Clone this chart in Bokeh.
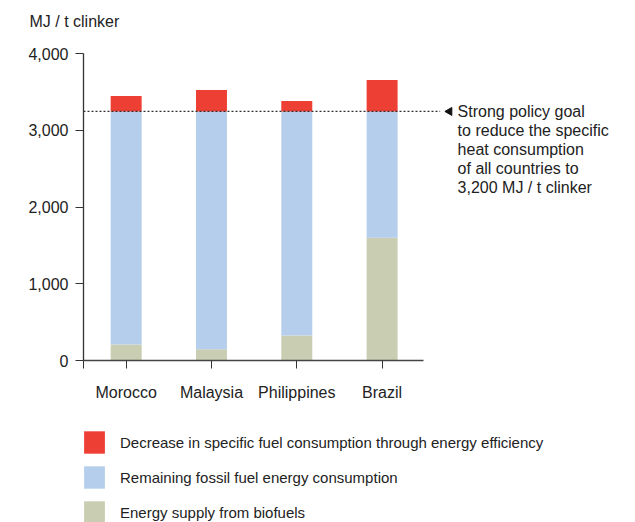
import math
from bokeh.plotting import figure
from bokeh.layouts import column
from bokeh.models import (FixedTicker, NumeralTickFormatter, Label, Legend, LegendItem, Range1d)
from bokeh.embed import file_html
from bokeh.resources import INLINE

# ---- data ----
countries = ["Morocco", "Malaysia", "Philippines", "Brazil"]
biofuels = [210, 145, 325, 1600]          # Energy supply from biofuels
policy_goal = 3245                        # drawn level of the 3,200 MJ / t clinker goal
totals = [3445, 3525, 3380, 3655]         # current specific heat consumption
y_ticks = [0, 1000, 2000, 3000, 4000]
y_title = "MJ / t clinker"
legend_labels = [
    "Decrease in specific fuel consumption through energy efficiency",
    "Remaining fossil fuel energy consumption",
    "Energy supply from biofuels",
]
note_lines = [
    "Strong policy goal",
    "to reduce the specific",
    "heat consumption",
    "of all countries to",
    "3,200 MJ / t clinker",
]

fossil = [policy_goal - b for b in biofuels]
efficiency = [t - policy_goal for t in totals]
pos = [i + 0.5 for i in range(len(countries))]

RED = "#EE3F35"
BLUE = "#B5CEEB"
GREEN = "#C9CDB1"
TXT = "#222222"
FONT = "Liberation Sans"
FS = "16px"
W = 635

# ---- main chart ----
p = figure(width=W, height=415, output_backend="svg", toolbar_location=None,
           x_range=Range1d(0, 6.47), y_range=Range1d(0, 4000),
           min_border_left=83, min_border_right=0, min_border_top=53, min_border_bottom=55)
p.outline_line_color = None
p.grid.visible = False

p.title.text = y_title + "\n "
p.title.align = "left"
p.title.offset = -54
p.title.standoff = 14
p.title.text_font = FONT
p.title.text_font_size = FS
p.title.text_font_style = "normal"
p.title.text_color = TXT

src = dict(x=pos, biofuels=biofuels, fossil=fossil, efficiency=efficiency)
rs = p.vbar_stack(["biofuels", "fossil", "efficiency"], x="x", width=0.363, source=src,
                  color=[GREEN, BLUE, RED], line_color=None)

p.line(x=[0, 4.18], y=[policy_goal, policy_goal], line_color="#333333", line_width=1.2,
       line_dash="2 2")
p.scatter(x=[4.29], y=[policy_goal], marker="triangle", size=8, angle=math.pi / 2,
          color="#111111")
for i, t in enumerate(note_lines):
    p.add_layout(Label(x=4.385, y=policy_goal, y_offset=-19 * i, text=t,
                       text_baseline="middle", text_font=FONT, text_font_size=FS,
                       text_color=TXT))

ya = p.yaxis[0]
ya.ticker = FixedTicker(ticks=y_ticks)
ya.formatter = NumeralTickFormatter(format="0,0")
ya.bounds = (0, 4000)
ya.major_tick_out = 8
ya.major_tick_in = 0
ya.minor_tick_line_color = None
ya.major_label_standoff = 7
ya.axis_line_color = "#333333"
ya.major_tick_line_color = "#333333"
ya.axis_line_width = 1.3
ya.major_label_text_font = FONT
ya.major_label_text_font_size = FS
ya.major_label_text_color = TXT

xa = p.xaxis[0]
xa.ticker = FixedTicker(ticks=[0] + pos)
xa.major_label_overrides = {0: ""} | {x: c for x, c in zip(pos, countries)}
xa.bounds = (0, 3.98)
xa.major_tick_out = 8
xa.major_tick_in = 0
xa.minor_tick_line_color = None
xa.major_label_standoff = 15
xa.axis_line_color = "#444444"
xa.major_tick_line_color = "#333333"
xa.axis_line_width = 1.3
xa.major_label_text_font = FONT
xa.major_label_text_font_size = FS
xa.major_label_text_color = TXT

# ---- legend panel ----
LH = 107
leg = figure(width=W, height=LH, output_backend="svg", toolbar_location=None,
             x_axis_location=None, y_axis_location=None,
             x_range=Range1d(0, 1), y_range=Range1d(0, 1), min_border=0)
leg.outline_line_color = None
leg.grid.visible = False
swatch_src = dict(x=[0], top=[0], bottom=[0])
lr = [leg.vbar(x="x", top="top", bottom="bottom", width=0, source=swatch_src,
               color=c, line_color=None) for c in (RED, BLUE, GREEN)]
items = [LegendItem(label=lab, renderers=[r]) for lab, r in zip(legend_labels, lr)]
gh, sp = 28, 7
H = 3 * gh + 2 * sp
legend = Legend(items=items, location=(-2, LH - 13 - H), orientation="vertical",
                glyph_width=26, glyph_height=gh, spacing=sp, label_standoff=13,
                label_height=gh, padding=0, margin=0,
                border_line_color=None, background_fill_alpha=0,
                label_text_font=FONT, label_text_font_size="15px", label_text_color=TXT)
leg.add_layout(legend, "center")

layout = column(p, leg, spacing=0)
open("out.html", "w").write(file_html(layout, INLINE))
